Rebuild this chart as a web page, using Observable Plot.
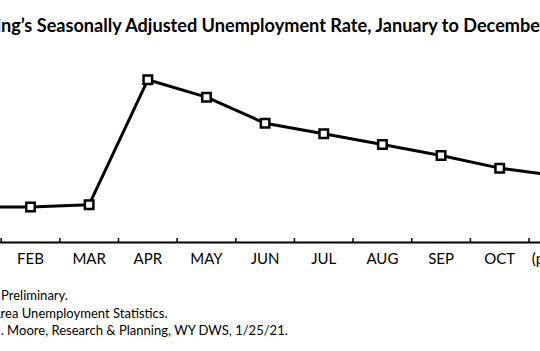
<!DOCTYPE html>
<html>
<head>
<meta charset="utf-8">
<script src="https://cdn.jsdelivr.net/npm/d3@7"></script>
<script src="https://cdn.jsdelivr.net/npm/@observablehq/plot@0.6"></script>
<style>
  html, body { margin: 0; padding: 0; background: #fff; }
  #wrap { position: relative; width: 540px; height: 351px; overflow: hidden; background: #fff; }
  #chart { position: absolute; left: 0; top: 0; }
  .txt { position: absolute; white-space: nowrap; color: #000; font-family: Lato, "Noto Sans", sans-serif; line-height: 1; }
  #title { font-weight: 700; }
</style>
</head>
<body>
<div id="wrap">
  <div id="chart"></div>
  <div id="title" class="txt"></div>
  <div id="note1" class="txt"></div>
  <div id="note2" class="txt"></div>
  <div id="note3" class="txt"></div>
</div>
<script>
// ---- data ----
const months = ["JAN", "FEB", "MAR", "APR", "MAY", "JUN", "JUL", "AUG", "SEP", "OCT", "(p) NOV"];
const rates  = [3.70, 3.70, 3.80, 9.20, 8.45, 7.32, 6.87, 6.40, 5.93, 5.38, 5.04];

const titleText = "Wyoming\u2019s Seasonally Adjusted Unemployment Rate, January to December 2020";
const notes = [
  "(p) Preliminary.",
  "Source: Local Area Unemployment Statistics.",
  "Prepared by M. Moore, Research & Planning, WY DWS, 1/25/21."
];

const data = months.map((m, i) => ({i, month: m, rate: rates[i]}));
const bounds = d3.range(months.length + 1).map(k => k - 0.5);

const yMin = 2.165, yMax = 10;
const step = 58.65;
const x0 = 1 - 30 / step;
const x1 = x0 + 540 / step;

const plot = Plot.plot({
  width: 540,
  height: 351,
  marginLeft: 0,
  marginRight: 0,
  marginTop: 60.8,
  marginBottom: 109,
  style: {background: "transparent", overflow: "hidden"},
  x: {type: "linear", domain: [x0, x1], axis: null},
  y: {type: "linear", domain: [yMin, yMax], axis: null},
  marks: [
    Plot.ruleY([yMin], {stroke: "black", strokeWidth: 2}),
    Plot.ruleX(bounds, {x: d => d, y1: yMin, y2: yMin, insetBottom: 4, stroke: "black", strokeWidth: 1.5}),
    // labels for the categories that fall inside the visible frame
    Plot.text(data.filter(d => d.i >= x0), {x: "i", y: () => yMin, text: "month", dy: 17, fontSize: 15,
      fontFamily: "Lato, 'Noto Sans', sans-serif", fill: "black"}),
    Plot.line(data, {x: "i", y: "rate", stroke: "black", strokeWidth: 3}),
    Plot.dot(data, {x: "i", y: "rate", symbol: "square", r: 4.8, fill: "white", stroke: "black", strokeWidth: 2.5})
  ]
});
document.getElementById("chart").appendChild(plot);

// ---- text placement: the reference is a crop of a larger figure ----
const ctx = document.createElement("canvas").getContext("2d");
function measure(s, size, weight) {
  ctx.font = `${weight} ${size}px Lato`;
  return ctx.measureText(s).width;
}
document.fonts.ready.then(() => {
  const tSize = 541 / measure("ng\u2019s Seasonally Adjusted Unemployment Rate, January to Decembe", 100, 700) * 100;
  const t = document.getElementById("title");
  t.textContent = titleText;
  t.style.fontSize = tSize + "px";
  t.style.top = "16px";
  t.style.left = (1 - measure("Wyomi", tSize, 700)) + "px";

  const noteSize = 288 / measure(". Moore, Research & Planning, WY DWS, 1/25/21.", 100, 400) * 100;
  const lines = [
    ["note1", notes[0], "(p) ", 289],
    ["note2", notes[1], "Source: Local A", 306.5],
    ["note3", notes[2], "Prepared by M", 324]
  ];
  for (const [id, full, pre, top] of lines) {
    const el = document.getElementById(id);
    el.textContent = full;
    el.style.fontSize = noteSize + "px";
    el.style.top = top + "px";
    el.style.left = (1 - measure(pre, noteSize, 400)) + "px";
  }
});
</script>
</body>
</html>
